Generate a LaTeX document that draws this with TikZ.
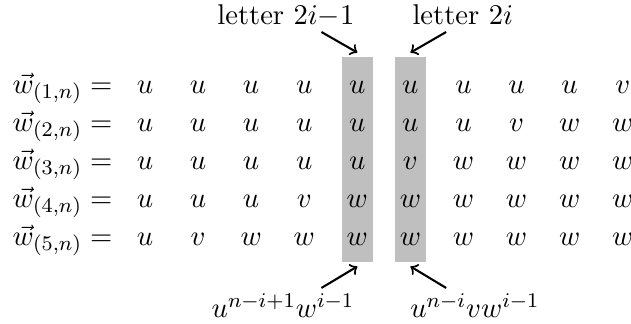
\documentclass[11pt,tikz,border=0pt]{standalone}
\usepackage{amsmath}
\begin{document}
\begin{tikzpicture}[
        band/.style={fill=lightgray, inner sep=0pt, minimum width=0.418cm, minimum height=2.761cm},
        letter/.style={anchor=base, inner sep=0pt},
        rowlab/.style={anchor=base east, inner sep=0pt},
        pointer/.style={->, thick}
    ]
        \useasboundingbox (0,0) rectangle (8.50,-4.364);
        % Wyroznione kolumny
        \node[band] (b1) at (4.814,-2.149) {};
        \node[band] (b2) at (5.529,-2.149) {};

        % Wiersze slow
        \foreach \row [count=\r] in {{u,u,u,u,u,u,u,u,u,v},{u,u,u,u,u,u,u,v,w,w},{u,u,u,u,u,v,w,w,w,w},{u,u,u,v,w,w,w,w,w,w},{u,v,w,w,w,w,w,w,w,w}} {
            \node[rowlab] (w\r) at (1.522,{-1.253-0.512*(\r-1)}) {$\vec{w}_{(\r,n)} =$};
            \foreach \l [count=\c] in \row
                \node[letter] (m\r-\c) at ({1.953+0.715*(\c-1)},{-1.253-0.512*(\r-1)}) {$\l$};
        }

        % Opisy i strzalki
        \node[anchor=base east, inner sep=0pt] (top1) at (4.78,-0.33) {letter $2i{-}1$};
        \node[anchor=base west, inner sep=0pt] (top2) at (5.55,-0.33) {letter $2i$};
        \node[anchor=base east, inner sep=0pt] (bot1) at (4.78,-4.283) {$u^{n-i+1}w^{i-1}$};
        \node[anchor=base west, inner sep=0pt] (bot2) at (5.52,-4.283) {$u^{n-i}vw^{i-1}$};

        \coordinate (s1) at (4.33,-0.431);
        \coordinate (s2) at (6.01,-0.431);
        \coordinate (s3) at (4.33,-3.879);
        \coordinate (s4) at (6.01,-3.879);

        \draw[pointer] (s1) -- ([yshift=1.5pt]b1.north);
        \draw[pointer] (s2) -- ([yshift=1.5pt]b2.north);
        \draw[pointer] (s3) -- ([yshift=-1.5pt]b1.south);
        \draw[pointer] (s4) -- ([yshift=-1.5pt]b2.south);
    \end{tikzpicture}
\end{document}
